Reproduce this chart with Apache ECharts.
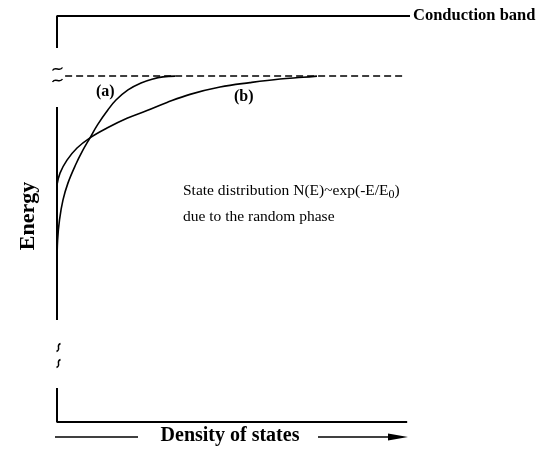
<!DOCTYPE html>
<html>
<head>
<meta charset="utf-8">
<script src="https://cdn.jsdelivr.net/npm/echarts@6/dist/echarts.min.js"></script>
<style>
  html, body { margin: 0; padding: 0; background: #fff; }
  #chart { width: 549px; height: 451px; }
</style>
</head>
<body>
<div id="chart"></div>
<script>
// density of states (x) vs energy (y), arbitrary units 0..100
const curveA = [[0, 38.9], [0.17, 44.8], [0.71, 49.8], [1.7, 54.7], [3.12, 58.9], [5.24, 63.3], [7.37, 67],
  [9.35, 70], [11.47, 73.2], [14.45, 76.9], [16.71, 79.3], [20.11, 81.8], [23.8, 83.5], [27.2, 84.5],
  [30.03, 85], [33.43, 85.2]]
const curveB = [[0, 58.4], [0.85, 61.3], [2.83, 64.5], [5.67, 67.5], [9.35, 70], [14.16, 72.4], [19.83, 74.8],
  [25.5, 76.7], [31.16, 78.7], [37.68, 80.7], [46.18, 82.5], [54.67, 83.6], [63.17, 84.5], [69.69, 84.9],
  [73.65, 85.2]]
const bandEdge = [[2.3, 85.2], [98.6, 85.2]]
const conductionBand = [[0, 92.1], [0, 100], [100, 100]]
const axisMid = [[0, 77.6], [0, 25.1]]
const axisLow = [[0, 8.4], [0, 0], [99.2, 0]]

const serif = '"Liberation Serif", "DejaVu Serif", serif'

function seg (data, width, type) {
  return {
    type: 'line',
    data: data,
    symbol: 'none',
    clip: false,
    silent: true,
    lineStyle: { color: '#000', width: width, type: type || 'solid' }
  }
}

// axis break marks
function tilde (x, y) {
  return {
    type: 'bezierCurve',
    shape: { x1: x - 5, y1: y + 1.5, cpx1: x - 2, cpy1: y - 3.5, cpx2: x + 2, cpy2: y + 3.5, x2: x + 5, y2: y - 1.5 },
    style: { stroke: '#000', lineWidth: 1.4, fill: null }
  }
}
function vtilde (x, y) {
  return {
    type: 'bezierCurve',
    shape: { x1: x + 2, y1: y - 4, cpx1: x - 3.5, cpy1: y - 1.5, cpx2: x + 3.5, cpy2: y + 1.5, x2: x - 2, y2: y + 4 },
    style: { stroke: '#000', lineWidth: 1.4, fill: null }
  }
}

const chart = echarts.init(document.getElementById('chart'))
chart.setOption({
  animation: false,
  backgroundColor: '#fff',
  grid: { left: 57, top: 16, width: 353, height: 406 },
  xAxis: { type: 'value', min: 0, max: 100, show: false },
  yAxis: { type: 'value', min: 0, max: 100, show: false },
  series: [
    seg(conductionBand, 2),
    seg(axisMid, 2),
    seg(axisLow, 2),
    seg(bandEdge, 1.5, [7, 4]),
    Object.assign(seg(curveA, 1.6), { smooth: 0.4 }),
    Object.assign(seg(curveB, 1.6), { smooth: 0.4 })
  ],
  graphic: [
    {
      type: 'text', x: 413, y: 16,
      style: { text: 'Conduction band', font: 'bold 16.5px ' + serif, fill: '#000', verticalAlign: 'middle' }
    },
    tilde(57.5, 69),
    tilde(57.5, 80.5),
    vtilde(58.5, 347.5),
    vtilde(58.5, 363.5),
    { type: 'text', x: 96, y: 84, style: { text: '(a)', font: 'bold 16px ' + serif, fill: '#000' } },
    { type: 'text', x: 234, y: 89, style: { text: '(b)', font: 'bold 16px ' + serif, fill: '#000' } },
    {
      type: 'text', x: 183, y: 178,
      style: {
        text: '{n|State distribution N(E)~exp(-E/E}{s|0}{n|)}\n{n|due to the random phase}',
        fill: '#000',
        rich: {
          n: { font: '15.5px ' + serif, fill: '#000', lineHeight: 26 },
          s: { font: '12px ' + serif, fill: '#000', padding: [8, 0, 0, 0], lineHeight: 26 }
        }
      }
    },
    {
      type: 'text', x: 28, y: 216, rotation: Math.PI / 2,
      style: { text: 'Energy', font: 'bold 22px ' + serif, fill: '#000', align: 'center', verticalAlign: 'middle' }
    },
    { type: 'line', shape: { x1: 55, y1: 437, x2: 138, y2: 437 }, style: { stroke: '#000', lineWidth: 1.5 } },
    { type: 'line', shape: { x1: 318, y1: 437, x2: 390, y2: 437 }, style: { stroke: '#000', lineWidth: 1.5 } },
    { type: 'polygon', shape: { points: [[388, 433.5], [408, 437], [388, 440.5]] }, style: { fill: '#000' } },
    {
      type: 'text', x: 230, y: 436,
      style: { text: 'Density of states', font: 'bold 20px ' + serif, fill: '#000', align: 'center', verticalAlign: 'middle' }
    }
  ]
})
</script>
</body>
</html>
